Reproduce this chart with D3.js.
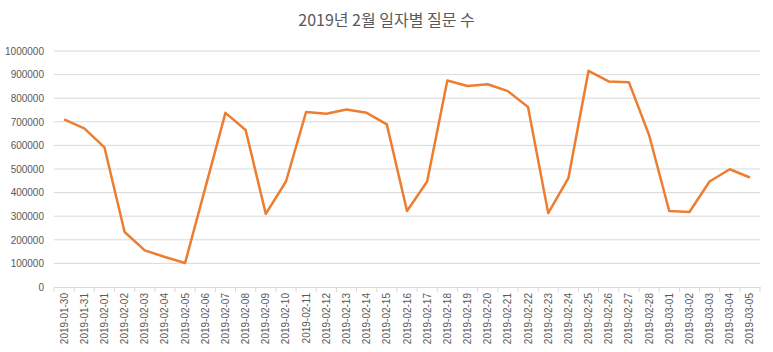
<!DOCTYPE html>
<html>
<head>
<meta charset="utf-8">
<script src="https://cdn.jsdelivr.net/npm/d3@7"></script>
<style>
  body { margin: 0; background: #fff; }
  svg { font-family: Calibri, Carlito, "Liberation Sans", "Noto Sans CJK KR", sans-serif; }
  .title { font-size: 16px; fill: #595959; font-family: "Noto Sans CJK KR", sans-serif; }
  .tick text { fill: #595959; font-size: 10px; }
</style>
</head>
<body>
<div id="chart"></div>
<script>
// --- DATA ---
const dates = [
  "2019-01-30", "2019-01-31", "2019-02-01", "2019-02-02", "2019-02-03", "2019-02-04", "2019-02-05",
  "2019-02-06", "2019-02-07", "2019-02-08", "2019-02-09", "2019-02-10", "2019-02-11", "2019-02-12",
  "2019-02-13", "2019-02-14", "2019-02-15", "2019-02-16", "2019-02-17", "2019-02-18", "2019-02-19",
  "2019-02-20", "2019-02-21", "2019-02-22", "2019-02-23", "2019-02-24", "2019-02-25", "2019-02-26",
  "2019-02-27", "2019-02-28", "2019-03-01", "2019-03-02", "2019-03-03", "2019-03-04", "2019-03-05"
];
const questions = [
  710000, 672000, 592000, 233000, 155000, 127000, 102000,
  420000, 738000, 665000, 310000, 447000, 742000, 734000,
  752000, 738000, 689000, 322000, 447000, 875000, 852000,
  859000, 830000, 763000, 313000, 461000, 916000, 871000,
  868000, 644000, 322000, 318000, 447000, 499000, 464000
];
const yTicks = [0, 100000, 200000, 300000, 400000, 500000, 600000, 700000, 800000, 900000, 1000000];
const titleText = "2019년 2월 일자별 질문 수";

// --- LAYOUT ---
const W = 773, H = 352;
const margin = { top: 51, right: 13, bottom: 65, left: 54 };
const width = W - margin.left - margin.right;
const height = H - margin.top - margin.bottom;

const svg = d3.select("#chart").append("svg")
  .attr("width", W).attr("height", H);

svg.append("text").attr("class", "title")
  .attr("x", W / 2).attr("y", 26)
  .attr("text-anchor", "middle")
  .text(titleText);

const g = svg.append("g").attr("transform", `translate(${margin.left},${margin.top})`);

// --- SCALES ---
const x = d3.scaleBand().domain(dates).range([0, width]);
const y = d3.scaleLinear().domain([0, 1000000]).range([height, 0]);

// grid lines
g.selectAll(".grid").data(yTicks.slice(1)).enter().append("line")
  .attr("x1", 0).attr("x2", width)
  .attr("y1", d => y(d)).attr("y2", d => y(d))
  .attr("stroke", "#d9d9d9").attr("stroke-width", 1);

// y axis
const yAxis = g.append("g")
  .call(d3.axisLeft(y).tickValues(yTicks).tickFormat(d3.format("d")).tickSize(0).tickPadding(10));
yAxis.select(".domain").remove();

// x axis
const xAxis = g.append("g").attr("transform", `translate(0,${height})`)
  .call(d3.axisBottom(x).tickSize(0).tickPadding(6));
xAxis.select(".domain").attr("stroke", "#d9d9d9");
xAxis.selectAll(".tick text")
  .attr("transform", "rotate(-90)")
  .attr("text-anchor", "end")
  .attr("x", -6).attr("y", 0).attr("dy", "0.35em");

// tick marks between bands
g.selectAll(".xtick").data(d3.range(dates.length + 1)).enter().append("line")
  .attr("x1", i => i * x.step()).attr("x2", i => i * x.step())
  .attr("y1", height).attr("y2", height + 5)
  .attr("stroke", "#d9d9d9");

// line
const line = d3.line()
  .x((d, i) => x(dates[i]) + x.bandwidth() / 2)
  .y(d => y(d));

g.append("path").datum(questions)
  .attr("fill", "none")
  .attr("stroke", "#ED7D31")
  .attr("stroke-width", 2.5)
  .attr("stroke-linejoin", "round")
  .attr("d", line);
</script>
</body>
</html>
